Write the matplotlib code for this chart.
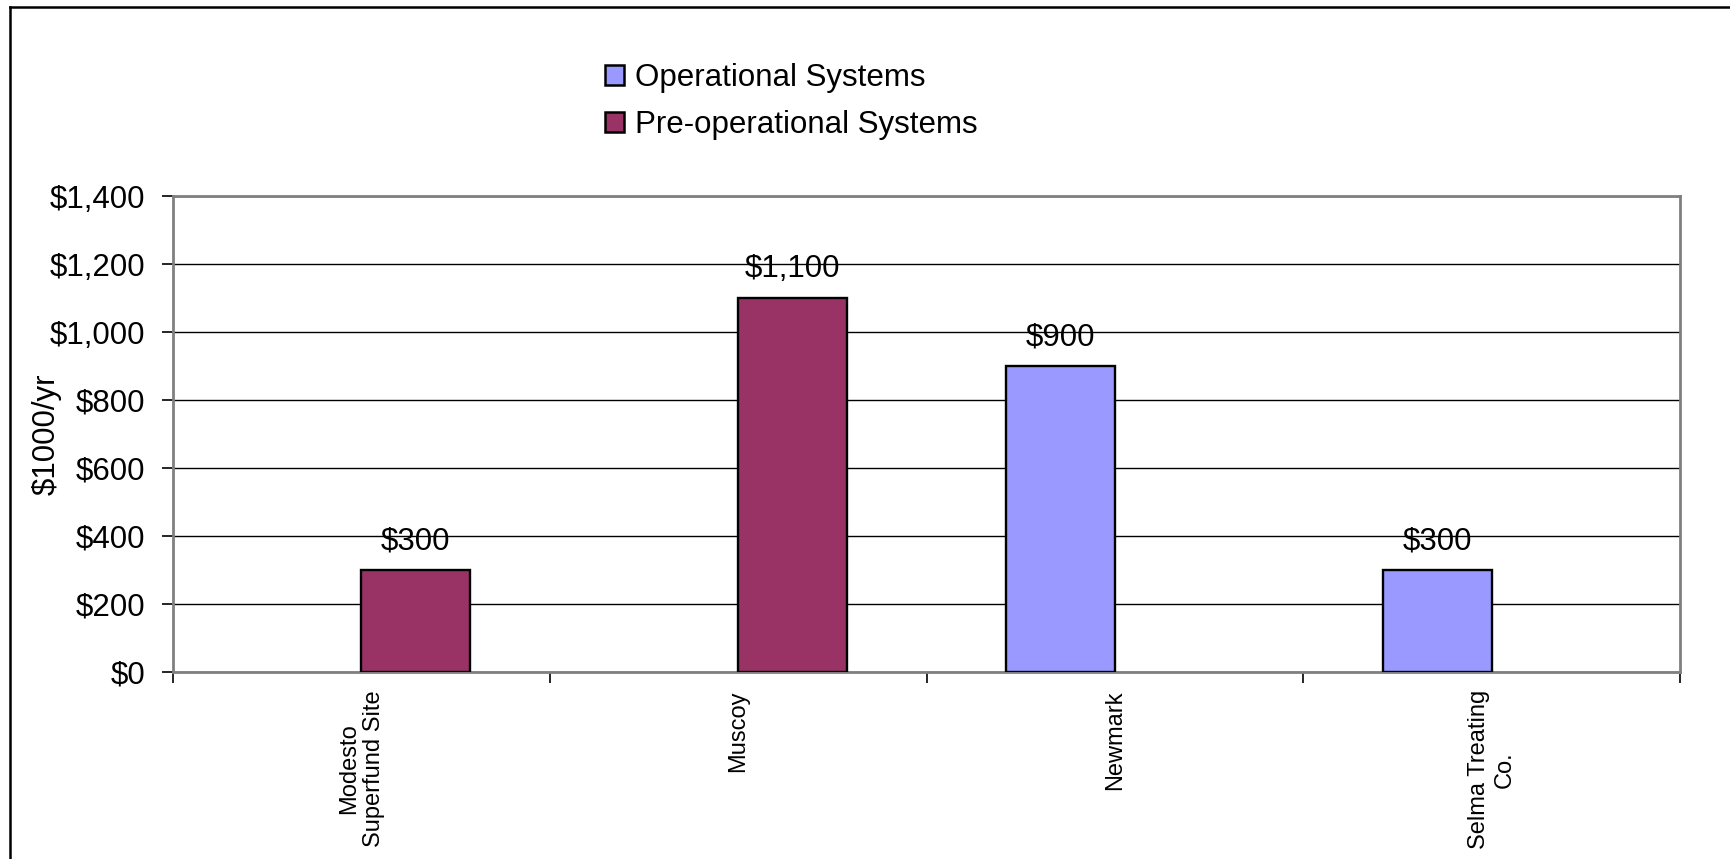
import matplotlib
matplotlib.use("Agg")
import matplotlib.pyplot as plt
import numpy as np
from matplotlib.lines import Line2D
from matplotlib.patches import Patch
from matplotlib.ticker import FuncFormatter, FixedLocator

plt.rcParams['font.family'] = ['Liberation Sans', 'DejaVu Sans']

categories = ["Modesto\nSuperfund Site", "Muscoy", "Newmark", "Selma Treating\nCo."]
operational = [0, 0, 900, 300]
pre_operational = [300, 1100, 0, 0]
series_names = ["Operational Systems", "Pre-operational Systems"]
colors = ["#9999FF", "#993366"]

fig = plt.figure(figsize=(17.30, 8.59), dpi=100)
ax = fig.add_axes([173/1730, 1 - 672/859, (1680-173)/1730, (672-196)/859])

x = np.arange(len(categories))
w = 0.288
b1 = ax.bar(x - w/2, operational, width=w, color=colors[0], edgecolor="black", linewidth=1.7, zorder=3)
b2 = ax.bar(x + w/2, pre_operational, width=w, color=colors[1], edgecolor="black", linewidth=1.7, zorder=3)
for bars, vals in ((b1, operational), (b2, pre_operational)):
    for r, v in zip(bars, vals):
        if v == 0:
            r.set_visible(False)
        else:
            ax.annotate(f"${v:,.0f}", (r.get_x() + r.get_width()/2, v), xytext=(0, 10),
                        textcoords="offset points", ha="center", va="bottom", fontsize=22.5, zorder=4)

ax.set_xlim(-0.5, len(categories) - 0.5)
ax.set_ylim(0, 1400)
ax.set_yticks(np.arange(0, 1401, 200))
ax.yaxis.set_major_formatter(FuncFormatter(lambda v, p: f"${v:,.0f}"))
ax.grid(axis="y", color="black", linewidth=1.0, zorder=0)
ax.set_axisbelow(True)

ax.xaxis.set_major_locator(FixedLocator(np.arange(-0.5, len(categories), 1.0)))
ax.xaxis.set_minor_locator(FixedLocator(x))
ax.set_xticklabels([])
ax.set_xticklabels(categories, minor=True, rotation=90, ha="center", va="top",
                   multialignment="center", fontsize=17)
ax.tick_params(axis="x", which="major", length=8, width=1.2, color="black", direction="out")
ax.tick_params(axis="x", which="minor", length=0, pad=13)
ax.tick_params(axis="y", length=8, width=1.2, color="black", direction="out", labelsize=22.5, pad=12)

for s in ax.spines.values():
    s.set_color("#808080")
    s.set_linewidth(2)

ax.set_ylabel("$1000/yr", fontsize=22.5)
ax.yaxis.set_label_coords((62 - 173) / 1507, 0.5)

handles = [Patch(facecolor=c, edgecolor="black", linewidth=1.8, label=n) for c, n in zip(colors, series_names)]
leg = fig.legend(handles=handles, loc="upper left", bbox_to_anchor=(605/1730, 1 - 63/859), frameon=False,
                 fontsize=22.5, handlelength=0.62, handleheight=0.62, handletextpad=0.35,
                 labelspacing=0.55, borderaxespad=0, borderpad=0)

# outer chart border (left and top)
fig.add_artist(Line2D([10/1730, 10/1730], [0, 1 - 7/859], transform=fig.transFigure, color="black", linewidth=1.8))
fig.add_artist(Line2D([10/1730, 1], [1 - 7/859, 1 - 7/859], transform=fig.transFigure, color="black", linewidth=1.8))

fig.savefig("out.png", dpi=100)
